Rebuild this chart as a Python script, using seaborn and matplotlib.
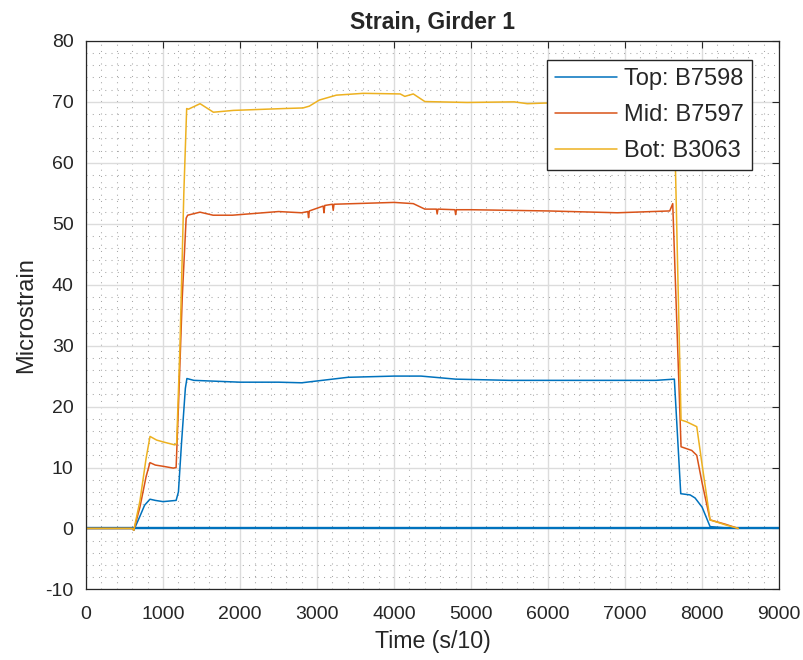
import numpy as np
import pandas as pd
import matplotlib
matplotlib.use("Agg")
import matplotlib.pyplot as plt
from matplotlib.ticker import MultipleLocator
import seaborn as sns

# values (time in s/10, microstrain)
top_t = [0, 600, 620, 700, 760, 830, 900, 1000, 1170, 1200, 1240, 1290, 1310, 1400, 1600,
         2000, 2500, 2800, 3400, 3700, 4000, 4350, 4800, 5500, 6500, 7400, 7640, 7723,
         7845, 7909, 8000, 8104, 8300, 8470]
top_v = [0, 0, -0.3, 2.0, 3.8, 4.8, 4.6, 4.4, 4.6, 6.0, 14.0, 23.0, 24.6, 24.3, 24.2,
         24.0, 24.0, 23.9, 24.8, 24.9, 25.0, 25.0, 24.5, 24.3, 24.3, 24.3, 24.5, 5.7,
         5.5, 5.0, 3.5, 0.3, 0.1, 0.0]

mid_t = [0, 600, 620, 700, 780, 830, 900, 1000, 1134, 1170, 1200, 1250, 1300, 1320, 1480,
         1650, 1900, 2500, 2800, 2880, 2890, 2900, 3080, 3090, 3100, 3200, 3210, 3220,
         4000, 4250, 4400, 4550, 4560, 4570, 4790, 4800, 4810, 5000, 6000, 6900, 7580,
         7619, 7727, 7866, 7931, 8000, 8104, 8300, 8470]
mid_v = [0, 0, -0.3, 3.5, 8.5, 10.8, 10.4, 10.2, 9.9, 10.0, 20.0, 38.0, 50.9, 51.4, 51.9,
         51.4, 51.4, 52.0, 51.8, 52.0, 51.0, 52.1, 52.9, 51.8, 53.0, 53.2, 52.2, 53.2,
         53.5, 53.3, 52.4, 52.4, 51.6, 52.4, 52.3, 51.5, 52.3, 52.3, 52.1, 51.8, 52.1,
         53.3, 13.4, 12.8, 12.0, 7.5, 1.4, 0.7, 0.0]

bot_t = [0, 600, 620, 700, 780, 831, 917, 1000, 1155, 1177, 1220, 1270, 1307, 1330, 1481,
         1654, 1915, 2560, 2818, 2900, 3030, 3250, 3600, 4080, 4140, 4250, 4400, 4950,
         5560, 5730, 5950, 6500, 7000, 7600, 7636, 7727, 7800, 7931, 8000, 8104, 8300,
         8470]
bot_v = [0, 0, -0.3, 4.5, 11.5, 15.1, 14.5, 14.2, 13.7, 14.0, 30.0, 55.0, 68.9, 68.8,
         69.7, 68.3, 68.6, 68.9, 69.0, 69.3, 70.3, 71.1, 71.4, 71.3, 70.9, 71.3, 70.05,
         69.9, 70.0, 69.7, 69.8, 69.9, 70.0, 70.0, 69.5, 17.8, 17.5, 16.7, 10.5, 1.4,
         0.6, 0.0]

labels = ["Top: B7598", "Mid: B7597", "Bot: B3063"]
colors = ["#0072BD", "#D95319", "#EDB120"]

df = pd.concat([
    pd.DataFrame({"time": top_t, "strain": top_v, "sensor": labels[0]}),
    pd.DataFrame({"time": mid_t, "strain": mid_v, "sensor": labels[1]}),
    pd.DataFrame({"time": bot_t, "strain": bot_v, "sensor": labels[2]}),
])

sns.set_theme(style="white")
plt.rcParams["font.family"] = ["Liberation Sans", "DejaVu Sans"]
plt.rcParams["axes.unicode_minus"] = False

fig = plt.figure(figsize=(8.04, 6.6), dpi=100)
ax = fig.add_axes([0.107, 0.107, 0.862, 0.831])

sns.lineplot(data=df, x="time", y="strain", hue="sensor", palette=colors,
             estimator=None, sort=False, linewidth=1.1, ax=ax)
ax.axhline(0, color=colors[0], linewidth=1.7, zorder=1)

ax.set_xlim(0, 9000)
ax.set_ylim(-10, 80)
ax.xaxis.set_major_locator(MultipleLocator(1000))
ax.yaxis.set_major_locator(MultipleLocator(10))
ax.xaxis.set_minor_locator(MultipleLocator(200))
ax.yaxis.set_minor_locator(MultipleLocator(2))
ax.grid(which="major", color="#dcdcdc", linewidth=1.0)
ax.grid(which="minor", color="#a8a8a8", linestyle=(0, (1, 5)), linewidth=0.75)
ax.set_axisbelow(True)
ax.tick_params(which="major", direction="in", length=5, width=0.8, top=True, right=True,
               labelsize=14, colors="#262626")
ax.tick_params(axis="x", pad=12)
ax.tick_params(axis="y", pad=9)
ax.tick_params(which="minor", length=0)
for s in ax.spines.values():
    s.set_color("#262626")
    s.set_linewidth(0.9)

ax.set_title("Strain, Girder 1", fontsize=16.5, fontweight="bold", pad=9)
ax.set_xlabel("Time (s/10)", fontsize=16.7, color="#262626", labelpad=5)
ax.set_ylabel("Microstrain", fontsize=17, color="#262626", labelpad=6)

leg = ax.legend(loc="upper right", fontsize=17, frameon=True, fancybox=False,
                framealpha=1, edgecolor="#262626", handlelength=2.6,
                handletextpad=0.3, labelspacing=0.6, borderpad=0.35,
                borderaxespad=0.0, bbox_to_anchor=(0.961, 0.966))
leg.get_frame().set_linewidth(1.0)

fig.savefig("out.png", dpi=100)
